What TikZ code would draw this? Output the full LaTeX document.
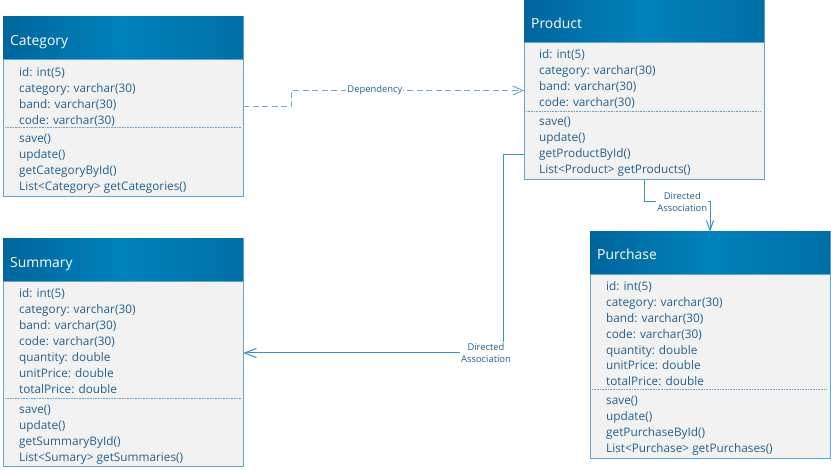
\documentclass[tikz,border=0pt]{standalone}
\usepackage{fontspec}
\setmainfont{Open Sans}
\usetikzlibrary{arrows.meta}
\definecolor{hdrA}{HTML}{00659D}
\definecolor{hdrB}{HTML}{0082BA}
\definecolor{hdrC}{HTML}{006FA6}
\definecolor{bodyfill}{HTML}{F2F2F2}
\definecolor{bordercol}{HTML}{62A6CD}
\definecolor{txtcol}{HTML}{22608F}
\definecolor{linkcol}{HTML}{3A93C3}
\definecolor{dashcol}{HTML}{72A9CA}
\definecolor{sepcol}{HTML}{6E9FC2}
\begin{document}
\begin{tikzpicture}[x=1pt,y=-1pt,
  classbox/.style={draw=bordercol, fill=bodyfill, line width=1pt, inner sep=0pt, outer sep=0pt,
    anchor=north west, minimum width=240pt},
  hdr/.style={left color=hdrA, right color=hdrC, middle color=hdrB, inner sep=0pt, outer sep=0pt,
    anchor=north west, minimum width=240pt},
  hdrline/.style={draw=bordercol, line width=1pt},
  ttl/.style={anchor=base west, inner sep=0pt, text=white, font=\fontsize{13.9}{16}\selectfont},
  txt/.style={anchor=base west, inner sep=0pt, text height=9pt, text depth=3pt, text=txtcol,
    font=\fontsize{11.8}{16}\selectfont},
  sepline/.style={draw=sepcol, line width=0.8pt, dash pattern=on 0.8pt off 0.8pt},
  lbl/.style={fill=white, inner sep=1pt, text=txtcol, align=center,
    font=\fontsize{9.4}{12.5}\selectfont},
  assoc/.style={draw=linkcol, line width=1pt},
  dep/.style={draw=dashcol, line width=1pt, dash pattern=on 6pt off 3.5pt}
]
\useasboundingbox[fill=white] (0,0) rectangle (831,470);

% ---------------- Category ----------------
\node[classbox, minimum height=180pt] (cat) at (3,17) {};
\node[hdr, minimum height=43pt] (cat-t) at (3,17) {};
\draw[hdrline] (cat-t.south west) -- (cat-t.south east);
\node[ttl] (cat-n) at (10,45.5) {Category};
\foreach \t [count=\i from 0] in {id: int(5), category: varchar(30), band: varchar(30), code: varchar(30)}
  \node[txt] (cat-a\i) at (19,76.5+16*\i) {\t};
\draw[sepline] (5,127) -- (241,127);
\foreach \t [count=\i from 0] in {save(), update(), getCategoryById(), List<Category> getCategories()}
  \node[txt] (cat-m\i) at (19,142.5+16*\i) {\t};

% ---------------- Product ----------------
\node[classbox, minimum height=179pt] (prod) at (524,1) {};
\node[hdr, minimum height=42pt] (prod-t) at (524,1) {};
\draw[hdrline] (prod-t.south west) -- (prod-t.south east);
\node[ttl] (prod-n) at (531,28.5) {Product};
\foreach \t [count=\i from 0] in {id: int(5), category: varchar(30), band: varchar(30), code: varchar(30)}
  \node[txt] (prod-a\i) at (539,58.5+16*\i) {\t};
\draw[sepline] (526,111) -- (761,111);
\foreach \t [count=\i from 0] in {save(), update(), getProductById(), List<Product> getProducts()}
  \node[txt] (prod-m\i) at (539,125.5+16*\i) {\t};

% ---------------- Purchase ----------------
\node[classbox, minimum height=227pt] (pur) at (590,232) {};
\node[hdr, minimum height=43pt] (pur-t) at (590,232) {};
\draw[hdrline] (pur-t.south west) -- (pur-t.south east);
\node[ttl] (pur-n) at (597,260) {Purchase};
\foreach \t [count=\i from 0] in {id: int(5), category: varchar(30), band: varchar(30), code: varchar(30), quantity: double, unitPrice: double, totalPrice: double}
  \node[txt] (pur-a\i) at (606,290.5+15.9*\i) {\t};
\draw[sepline] (592,389) -- (827,389);
\foreach \t [count=\i from 0] in {save(), update(), getPurchaseById(), List<Purchase> getPurchases()}
  \node[txt] (pur-m\i) at (606,404.5+16*\i) {\t};

% ---------------- Summary ----------------
\node[classbox, minimum height=228pt] (sum) at (3,239) {};
\node[hdr, minimum height=43pt] (sum-t) at (3,239) {};
\draw[hdrline] (sum-t.south west) -- (sum-t.south east);
\node[ttl] (sum-n) at (10,267.5) {Summary};
\foreach \t [count=\i from 0] in {id: int(5), category: varchar(30), band: varchar(30), code: varchar(30), quantity: double, unitPrice: double, totalPrice: double}
  \node[txt] (sum-a\i) at (19,297.5+16*\i) {\t};
\draw[sepline] (5,398) -- (241,398);
\foreach \t [count=\i from 0] in {save(), update(), getSummaryById(), List<Sumary> getSummaries()}
  \node[txt] (sum-m\i) at (19,413.5+16*\i) {\t};

% ---------------- Connectors ----------------
\draw[dep, -{Straight Barb[length=10pt,width=9pt]}]
  (cat.east) -- ++(48,0) |- node[lbl, pos=0.68] (dep-l) {Dependency} (prod.west);
\draw[assoc, -{Straight Barb[length=12pt,width=9pt]}]
  (prod-m2.west -| prod.west) -- ++(-21,0) |- node[lbl, xshift=-17pt] (as1-l) {Directed\\Association} (sum.east);
\draw[assoc, -{Straight Barb[length=10pt,width=7pt]}]
  (prod.south) -- ++(0,22) -| node[lbl, pos=0.29] (as2-l) {Directed\\Association} (pur.north);
\end{tikzpicture}
\end{document}
